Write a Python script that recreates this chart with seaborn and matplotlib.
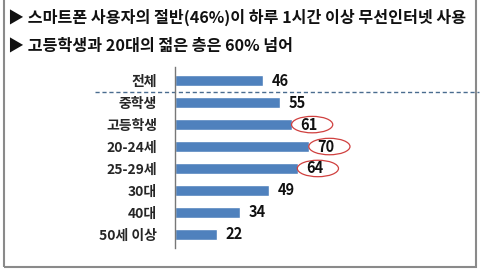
import matplotlib
matplotlib.use("Agg")
import matplotlib.pyplot as plt
from matplotlib.patches import Ellipse, Rectangle
import seaborn as sns
import pandas as pd

# data
groups = ["전체", "중학생", "고등학생", "20-24세", "25-29세", "30대", "40대", "50세 이상"]
values = [46, 55, 61, 70, 64, 49, 34, 22]
circled = ["고등학생", "20-24세", "25-29세"]
title1 = "▶ 스마트폰 사용자의 절반(46%)이 하루 1시간 이상 무선인터넷 사용"
title2 = "▶ 고등학생과 20대의 젊은 층은 60% 넘어"

df = pd.DataFrame({"group": groups, "value": values})

sns.set_style("white")
plt.rcParams['font.family'] = ['Noto Sans CJK KR', 'DejaVu Sans']

fig = plt.figure(figsize=(4.8, 2.74), dpi=100)
ax = fig.add_axes([175/480, 1 - 248/274, 295/480, 181/274])

sns.barplot(data=df, x="value", y="group", color="#4F81BD", width=0.5,
            saturation=1, ax=ax)

ax.set_xlim(0, 154)
ax.set_xlabel("")
ax.set_ylabel("")
ax.set_xticks([])
for s in ["top", "right", "bottom"]:
    ax.spines[s].set_visible(False)
ax.spines["left"].set_color("#777777")
ax.spines["left"].set_linewidth(1)
ax.tick_params(axis="y", length=0, pad=13)
for lbl in ax.get_yticklabels():
    lbl.set_fontweight("bold")
    lbl.set_fontsize(10)

# value labels
for i, v in enumerate(values):
    ax.text(v + 4.5, i, str(v), va="center", ha="left", fontsize=10.5,
            fontweight="bold", color="#111111")

# red circles
for g in circled:
    i = groups.index(g)
    ax.add_patch(Ellipse((values[i] + 10.6, i), 21.5, 0.75, angle=0,
                         fill=False, edgecolor="#D0403F", linewidth=0.9,
                         clip_on=False))

# dashed separator below 전체
ax.plot([-0.27, 1.03], [0.5, 0.5], transform=ax.get_yaxis_transform(),
        ls=(0, (3, 2)), color="#4A6C8F", lw=1, clip_on=False)

# titles
fig.text(8/480, 1 - 17/274, title1, fontsize=11.6, fontweight="bold",
         va="center", ha="left", color="#111111")
fig.text(8/480, 1 - 45/274, title2, fontsize=11.6, fontweight="bold",
         va="center", ha="left", color="#111111")

# frame
fig.patches.append(Rectangle((4/480, 1 - 267/274), 472/480, 0.2 + 267/274,
                             transform=fig.transFigure, fill=False,
                             edgecolor="#8A8A8A", linewidth=1.5))

fig.savefig("out.png", dpi=100)
